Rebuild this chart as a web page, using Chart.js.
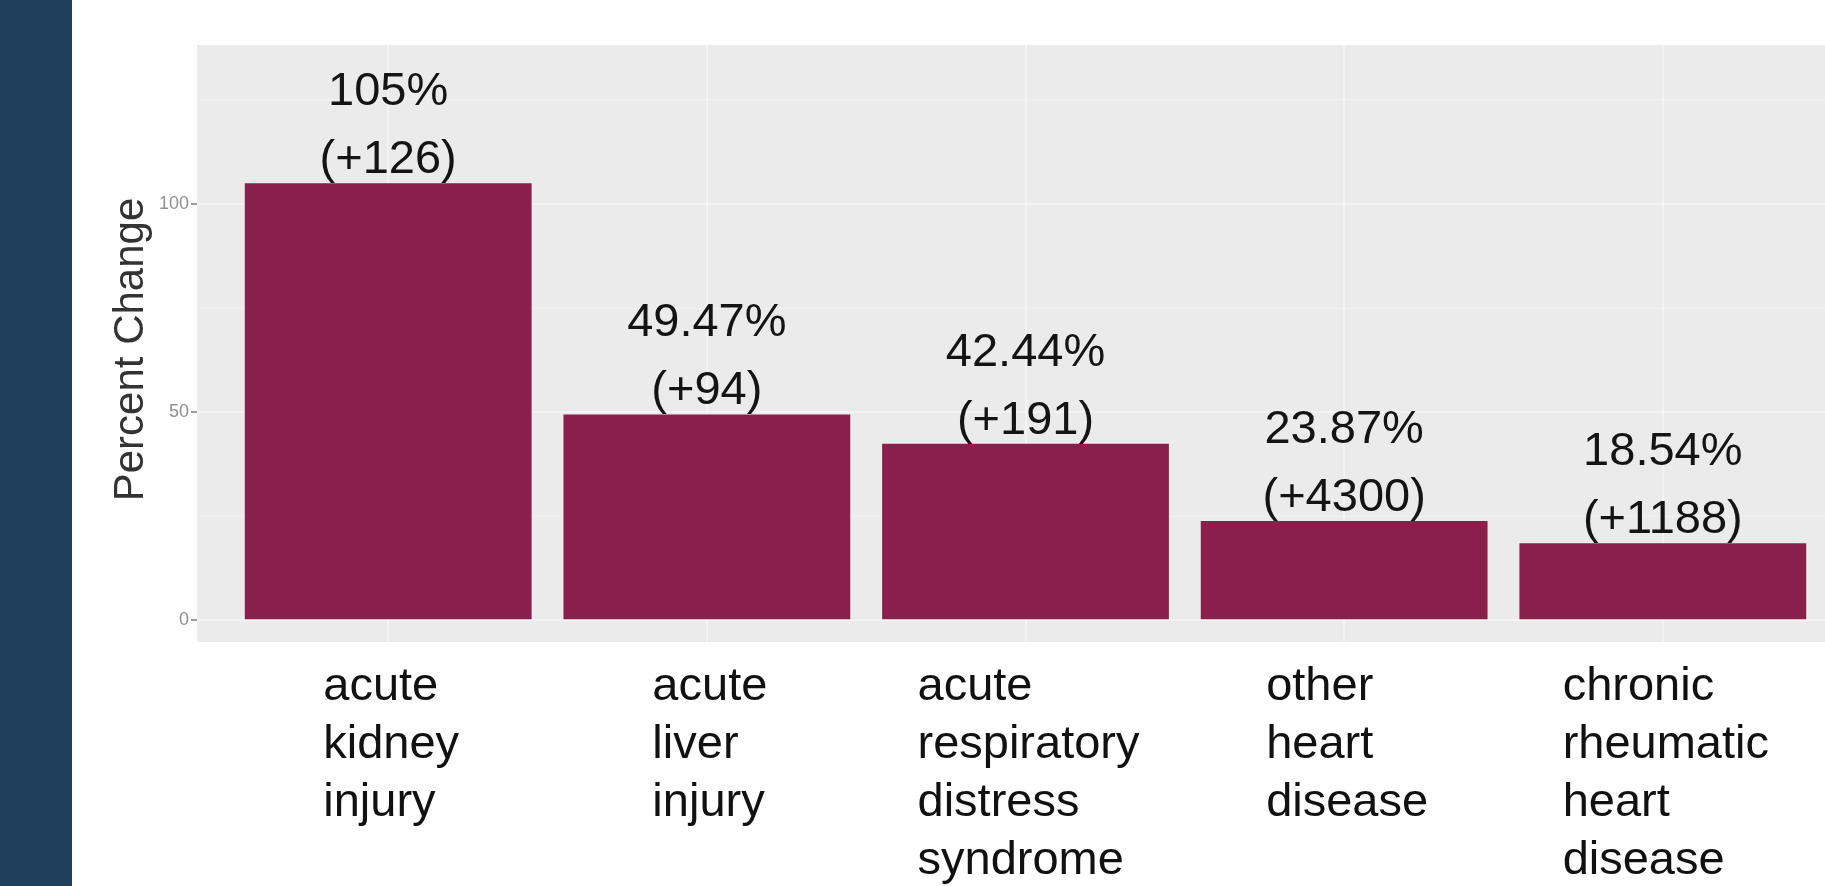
<!DOCTYPE html>
<html lang="en">
<head>
<meta charset="UTF-8">
<title>Percent Change</title>
<style>
    html, body {
        margin: 0;
        padding: 0;
        background: #fff;
        overflow: hidden;
        width: 1825px;
        height: 886px;
    }
    .band {
        position: absolute;
        left: 0;
        top: 0;
        width: 72px;
        height: 886px;
        background: #203f5a;
        z-index: 2;
    }
    .wrap {
        position: absolute;
        left: 0;
        top: 0;
        width: 1870px;
        height: 886px;
    }
</style>
</head>
<body>
<div class="band"></div>
<div class="wrap"><canvas id="chart"></canvas></div>

<script src="https://cdn.jsdelivr.net/npm/chart.js"></script>
<script>
// data
const categories = [
    ['acute', 'kidney', 'injury'],
    ['acute', 'liver', 'injury'],
    ['acute', 'respiratory', 'distress', 'syndrome'],
    ['other', 'heart', 'disease'],
    ['chronic', 'rheumatic', 'heart', 'disease']
];
const percentChange = [105, 49.47, 42.44, 23.87, 18.54];
const pctLabels = ['105%', '49.47%', '42.44%', '23.87%', '18.54%'];
const countLabels = ['(+126)', '(+94)', '(+191)', '(+4300)', '(+1188)'];
const yMajorTicks = [0, 50, 100];
const yMinorTicks = [25, 75, 125];

const FONT = '"Liberation Sans", Arial, sans-serif';

// grey ggplot-like panel
const panelBg = {
    id: 'panelBg',
    beforeDraw(chart) {
        const a = chart.chartArea;
        const ctx = chart.ctx;
        ctx.save();
        ctx.fillStyle = '#ebebeb';
        ctx.fillRect(a.left, a.top, a.right - a.left, a.bottom - a.top);
        ctx.restore();
    }
};

// two-line labels above bars, category names below, y title
const textLayer = {
    id: 'textLayer',
    afterDatasetsDraw(chart) {
        const ctx = chart.ctx;
        const a = chart.chartArea;
        const xs = chart.scales.x;
        const bars = chart.getDatasetMeta(0).data;
        ctx.save();
        ctx.font = '47px ' + FONT;
        ctx.fillStyle = '#141414';
        ctx.textAlign = 'center';
        ctx.textBaseline = 'alphabetic';
        bars.forEach((bar, i) => {
            ctx.fillText(countLabels[i], bar.x, bar.y - 10);
            ctx.fillText(pctLabels[i], bar.x, bar.y - 78);
        });

        // category labels: block centred on the bar, lines left aligned
        ctx.textAlign = 'left';
        ctx.fillStyle = '#111';
        categories.forEach((lines, i) => {
            const cx = xs.getPixelForValue(i + 1);
            const w = Math.max(...lines.map(l => ctx.measureText(l).width));
            lines.forEach((l, k) => {
                ctx.fillText(l, cx - w / 2 + 3, a.bottom + 58 + k * 58);
            });
        });

        // y axis title
        ctx.font = '42px ' + FONT;
        ctx.fillStyle = '#333';
        ctx.textAlign = 'center';
        ctx.textBaseline = 'middle';
        ctx.translate(131, (a.top + a.bottom) / 2 + 6);
        ctx.rotate(-Math.PI / 2);
        ctx.fillText('Percent Change', 0, 0);
        ctx.restore();
    }
};

const isMajor = v => yMajorTicks.includes(v);

new Chart(document.getElementById('chart'), {
    type: 'bar',
    data: {
        datasets: [{
            data: percentChange.map((v, i) => ({ x: i + 1, y: v })),
            backgroundColor: '#8b1f4c',
            borderWidth: 0,
            barPercentage: 0.9,
            categoryPercentage: 1.0
        }]
    },
    options: {
        responsive: true,
        maintainAspectRatio: false,
        animation: false,
        layout: { padding: { left: 0, right: 16, top: 45, bottom: 0 } },
        plugins: {
            legend: { display: false },
            tooltip: { enabled: false }
        },
        scales: {
            x: {
                type: 'linear',
                min: 0.4,
                max: 5.6,
                offset: false,
                afterBuildTicks(s) { s.ticks = categories.map((c, i) => ({ value: i + 1 })); },
                afterFit(s) { s.height = 244; },
                ticks: { display: false },
                border: { display: false },
                grid: { offset: false, color: 'rgba(255,255,255,0.4)', lineWidth: 2, drawTicks: false }
            },
            y: {
                min: -5.2,
                max: 138.2,
                afterBuildTicks(s) {
                    s.ticks = yMajorTicks.concat(yMinorTicks).sort((p, q) => p - q).map(v => ({ value: v }));
                },
                afterFit(s) { s.width = 197; },
                border: { display: false },
                ticks: {
                    padding: 2,
                    color: '#8f8f8f',
                    font: { family: FONT, size: 18 },
                    callback: v => isMajor(v) ? String(v) : ''
                },
                grid: {
                    tickLength: 6,
                    color: c => isMajor(c.tick.value) ? 'rgba(255,255,255,0.4)' : 'rgba(255,255,255,0.25)',
                    lineWidth: c => isMajor(c.tick.value) ? 2 : 1,
                    tickColor: c => isMajor(c.tick.value) ? '#9a9a9a' : 'rgba(0,0,0,0)'
                }
            }
        }
    },
    plugins: [panelBg, textLayer]
});
</script>
</body>
</html>
